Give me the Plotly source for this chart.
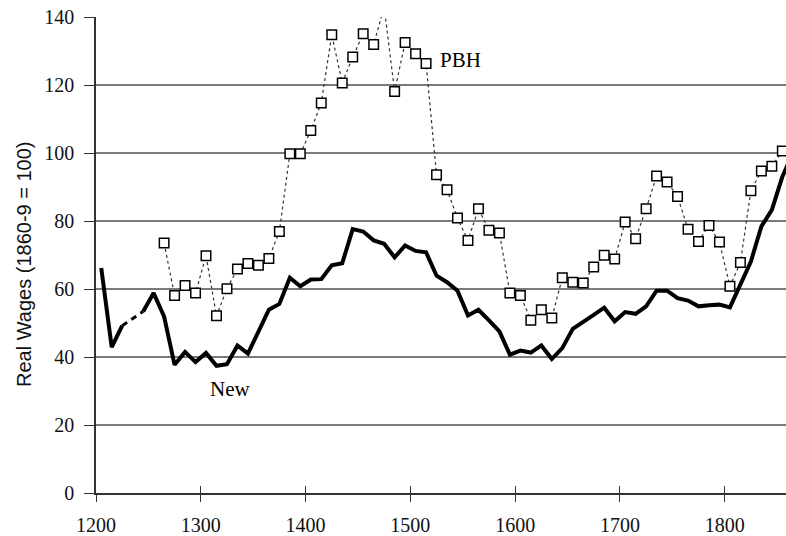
import plotly.graph_objects as go

# Real wage series, one value per decade (decade midpoints)
new_years = list(range(1205, 1866, 10))
new_wages = [
    66.2, 42.9, 49.2, None, 53.4, 58.8, 51.9, 37.7, 41.5, 38.5,
    41.2, 37.4, 37.9, 43.4, 41.0, 47.5, 53.9, 55.6, 63.3, 60.8,
    62.8, 62.9, 67.0, 67.6, 77.6, 76.9, 74.3, 73.3, 69.3, 72.8,
    71.2, 70.8, 63.9, 62.0, 59.5, 52.2, 53.9, 50.8, 47.5, 40.7,
    41.9, 41.3, 43.4, 39.4, 42.6, 48.3, 50.5, 52.4, 54.5, 50.5,
    53.2, 52.7, 54.9, 59.5, 59.5, 57.3, 56.6, 54.9, 55.2, 55.4,
    54.6, 61.3, 68.1, 78.4, 83.3, 93.0, 100.0,
]

pbh_years = list(range(1265, 1856, 10))
pbh_wages = [
    73.5, 58.1, 61.0, 58.8, 69.8, 52.1, 60.1, 65.9, 67.5, 67.0,
    69.0, 76.9, 99.8, 99.8, 106.6, 114.7, 134.8, 120.6, 128.2, 135.1,
    131.9, 143.0, 118.1, 132.5, 129.2, 126.3, 93.6, 89.2, 80.9, 74.3,
    83.6, 77.3, 76.5, 58.8, 58.1, 50.8, 53.9, 51.5, 63.3, 62.0,
    61.8, 66.5, 69.9, 68.8, 79.7, 74.8, 83.6, 93.2, 91.5, 87.2,
    77.6, 74.0, 78.7, 73.8, 60.8, 67.8, 88.9, 94.7, 96.1, 100.6,
]

x_ticks = list(range(1200, 1801, 100))
y_ticks = list(range(0, 141, 20))

SERIF = "Liberation Serif, Times New Roman, serif"
SANS = "Liberation Sans, Arial, sans-serif"

fig = go.Figure()

# dashed bridge across the missing decade(s) of the new series
gap_x, gap_y = [], []
for i, v in enumerate(new_wages):
    if v is None and 0 < i < len(new_wages) - 1:
        gap_x += [new_years[i - 1], new_years[i + 1], None]
        gap_y += [new_wages[i - 1], new_wages[i + 1], None]

fig.add_trace(go.Scatter(
    x=gap_x, y=gap_y, mode="lines",
    line=dict(color="black", width=3, dash="6px,5px"),
    hoverinfo="skip", showlegend=False
))

fig.add_trace(go.Scatter(
    x=new_years, y=new_wages, mode="lines",
    line=dict(color="black", width=4),
    connectgaps=False, showlegend=False
))

fig.add_trace(go.Scatter(
    x=pbh_years, y=pbh_wages, mode="lines+markers",
    line=dict(color="#333333", width=1.2, dash="dot"),
    marker=dict(symbol="square", size=9.5, color="white",
                line=dict(color="black", width=1.5)),
    showlegend=False
))

# invisible trace so the second x axis (inside half of the crossing ticks) is drawn
fig.add_trace(go.Scatter(
    x=[x_ticks[0]], y=[0], xaxis="x2", mode="markers",
    marker=dict(opacity=0), hoverinfo="skip", showlegend=False
))

fig.add_annotation(x=1548, y=127.5, text="PBH", showarrow=False,
                   font=dict(family=SERIF, size=21, color="black"))
fig.add_annotation(x=1327.5, y=30.5, text="New", showarrow=False,
                   font=dict(family=SERIF, size=21, color="black"))

# y axis title placed by hand so it sits where the original one is
fig.add_annotation(xref="paper", yref="paper", x=0, y=0.5,
                   xanchor="center", yanchor="middle",
                   xshift=-72, yshift=-9, textangle=-90,
                   text="Real Wages (1860-9 = 100)", showarrow=False,
                   font=dict(family=SANS, size=20, color="#111"))

fig.update_layout(
    width=786, height=536,
    margin=dict(l=96, r=0, t=17, b=43),
    paper_bgcolor="white", plot_bgcolor="white",
    xaxis=dict(
        range=[1200, 1858.5], tickvals=x_ticks,
        ticks="outside", ticklen=7, tickwidth=1.2, tickcolor="#333",
        showline=True, linecolor="#333", linewidth=1.5,
        showgrid=False, zeroline=False,
        tickfont=dict(family=SERIF, size=20, color="#111"),
        ticklabelstandoff=6,
        automargin=False,
    ),
    xaxis2=dict(
        overlaying="x", matches="x", anchor="y", side="bottom",
        tickvals=x_ticks, ticks="inside", ticklen=7, tickwidth=1.2,
        tickcolor="#333", showticklabels=False, showgrid=False,
        showline=False, zeroline=False,
    ),
    yaxis=dict(
        range=[0, 140], tickvals=y_ticks,
        ticks="outside", ticklen=10, tickwidth=1.2, tickcolor="#333",
        showline=True, linecolor="#333", linewidth=1.5,
        showgrid=True, gridcolor="#7a7a7a", gridwidth=1.5,
        zeroline=False,
        tickfont=dict(family=SERIF, size=20, color="#111"),
        ticklabelstandoff=6,
        automargin=False,
    ),
)

fig.write_html(
    "out.html",
    config={"displayModeBar": False},
    post_script="document.body.style.margin='0';document.body.style.overflow='hidden';",
)
